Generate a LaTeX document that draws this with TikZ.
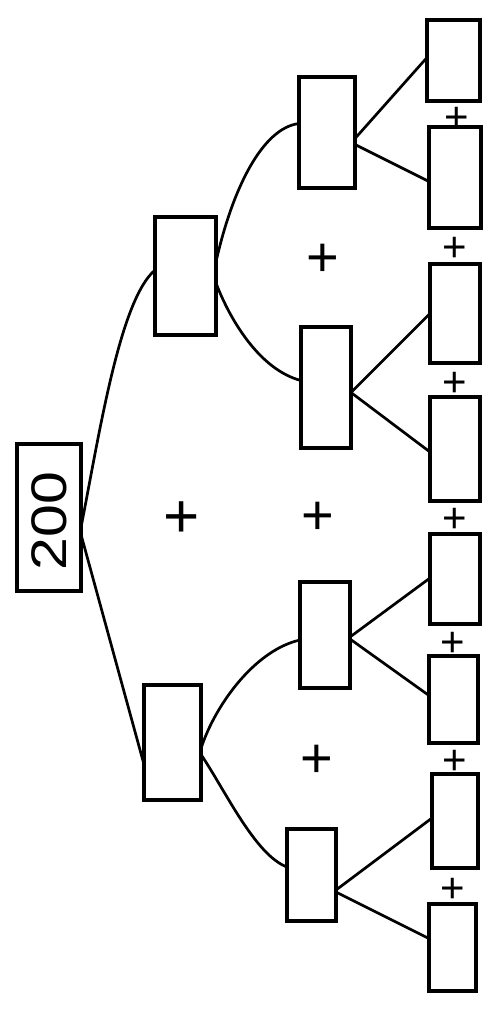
\documentclass[tikz,border=0pt]{standalone}
\usepackage{fontspec}
\setmainfont{Liberation Sans}
\begin{document}
\begin{tikzpicture}[x=1pt,y=-1pt,
  box/.style={draw,line width=3.6pt,rectangle,inner sep=0pt,outer sep=0pt},
  link/.style={line width=2.7pt},
  smallplus/.style={inner sep=0pt,font=\fontsize{42}{42}\selectfont},
  midplus/.style={inner sep=0pt,font=\fontsize{56}{56}\selectfont},
  bigplus/.style={inner sep=0pt,font=\fontsize{62}{62}\selectfont}]
\useasboundingbox (0,0) rectangle (500,1013);
% root
\node[box,minimum width=64,minimum height=147] (root) at (49,517.5) {};
\node[rotate=90,inner sep=0pt,font=\fontsize{50}{50}\selectfont] (rtext) at (49,521) {\scalebox{1.18}[1]{200}};
% level 1
\node[box,minimum width=61,minimum height=118] (t1) at (185.5,276) {};
\node[box,minimum width=57,minimum height=115] (b1) at (172.5,742.5) {};
% level 2
\node[box,minimum width=56,minimum height=111] (A) at (327,132.5) {};
\node[box,minimum width=50,minimum height=121] (B) at (326,387.5) {};
\node[box,minimum width=50,minimum height=106] (C) at (325,635) {};
\node[box,minimum width=49,minimum height=92] (D) at (311.5,875) {};
% level 3
\node[box,minimum width=53,minimum height=81] (l1) at (453.5,60.5) {};
\node[box,minimum width=52,minimum height=101] (l2) at (455,177.5) {};
\node[box,minimum width=50,minimum height=99] (l3) at (455,313.5) {};
\node[box,minimum width=50,minimum height=104] (l4) at (455,449) {};
\node[box,minimum width=50,minimum height=90] (l5) at (455,579) {};
\node[box,minimum width=49,minimum height=87] (l6) at (453.5,699.5) {};
\node[box,minimum width=46,minimum height=94] (l7) at (455,821) {};
\node[box,minimum width=47,minimum height=87] (l8) at (452.5,947.5) {};
% plus signs
\node[smallplus] (p1) at (457,119) {+};
\node[smallplus] (p2) at (455,249) {+};
\node[smallplus] (p3) at (455,384) {+};
\node[smallplus] (p4) at (455,520) {+};
\node[smallplus] (p5) at (453,644) {+};
\node[smallplus] (p6) at (455,762) {+};
\node[smallplus] (p7) at (453,890) {+};
\node[midplus] (q1) at (323,260) {+};
\node[midplus] (q2) at (318,518) {+};
\node[midplus] (q3) at (317,761) {+};
\node[bigplus] (r1) at (182,520) {+};
% connectors
\draw[link] ([yshift=-10pt]root.east) .. controls (100,430) and (120,300) .. ([yshift=6pt]t1.west);
\draw[link] ([yshift=-17pt]root.east) -- ([yshift=-22pt]b1.west);
\draw[link] ([yshift=14pt]t1.east) .. controls (232,190) and (262,128) .. ([yshift=9pt]A.west);
\draw[link] ([yshift=-7pt]t1.east) .. controls (230,320) and (260,370) .. ([yshift=7pt]B.west);
\draw[link] ([yshift=-6pt]b1.east) .. controls (215,705) and (255,650) .. ([yshift=-5pt]C.west);
\draw[link] ([yshift=-12pt]b1.east) .. controls (225,790) and (255,855) .. ([yshift=8pt]D.west);
\draw[link] ([yshift=-6pt]A.east) -- ([yshift=3pt]l1.west);
\draw[link] ([yshift=-12pt]A.east) -- ([yshift=-4pt]l2.west);
\draw[link] ([yshift=-5pt]B.east) -- (l3.west);
\draw[link] ([yshift=-5pt]B.east) -- ([yshift=-3pt]l4.west);
\draw[link] ([yshift=-2pt]C.east) -- ([yshift=1pt]l5.west);
\draw[link] ([yshift=-4pt]C.east) -- ([yshift=4pt]l6.west);
\draw[link] ([yshift=-15pt]D.east) -- ([yshift=3pt]l7.west);
\draw[link] ([yshift=-17pt]D.east) -- ([yshift=9pt]l8.west);
\end{tikzpicture}
\end{document}
